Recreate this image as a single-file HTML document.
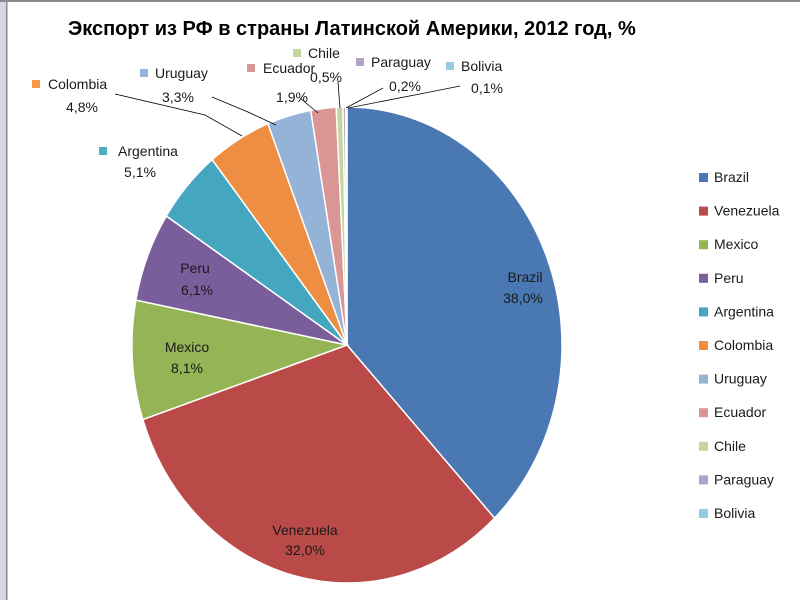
<!DOCTYPE html>
<html><head><meta charset="utf-8"><style>
body{margin:0;background:#fff}
svg text{font-family:"Liberation Sans","DejaVu Sans",sans-serif;font-size:14px;fill:#1a1a1a}
</style></head><body>
<svg id="s" width="800" height="600" xmlns="http://www.w3.org/2000/svg">
<rect x="0" y="0" width="6" height="600" fill="#ddd3e6"/>
<rect x="6" y="0" width="1.5" height="600" fill="#8a8a8a"/>
<rect x="0" y="0" width="800" height="2" fill="#8a8a8a"/>
<text x="68" y="35" style="font-size:20px;font-weight:bold;fill:#000">Экспорт из РФ в страны Латинской Америки, 2012 год, %</text>
<g id="pie"></g>
<g stroke="#000" stroke-width="0.8" fill="none">
<polyline points="115,94 205,115 242,136"/>
<polyline points="212,97 248,112 276,125"/>
<polyline points="300,98 318,113"/>
<polyline points="338,82 340,108"/>
<polyline points="383,88 346,108"/>
<polyline points="460,86 430,92 348,108"/>
</g>
<g text-anchor="middle">
<text x="525" y="282">Brazil</text><text x="523" y="303">38,0%</text>
<text x="305" y="535">Venezuela</text><text x="305" y="555">32,0%</text>
<text x="187" y="352">Mexico</text><text x="187" y="373">8,1%</text>
<text x="195" y="273">Peru</text><text x="197" y="295">6,1%</text>
<text x="140" y="177">5,1%</text>
<text x="82" y="112">4,8%</text>
<text x="178" y="102">3,3%</text>
<text x="292" y="102">1,9%</text>
<text x="326" y="82">0,5%</text>
<text x="405" y="91">0,2%</text>
<text x="487" y="93">0,1%</text>
</g>
<g>
<rect x="99" y="147" width="8" height="8" fill="#4BACC6"/><text x="118" y="156">Argentina</text>
<rect x="32" y="80" width="8" height="8" fill="#F79646"/><text x="48" y="89">Colombia</text>
<rect x="140" y="69" width="8" height="8" fill="#95B3D7"/><text x="155" y="78">Uruguay</text>
<rect x="247" y="64" width="8" height="8" fill="#D99694"/><text x="263" y="73">Ecuador</text>
<rect x="293" y="49" width="8" height="8" fill="#C3D69B"/><text x="308" y="58">Chile</text>
<rect x="356" y="58" width="8" height="8" fill="#B3A2C7"/><text x="371" y="67">Paraguay</text>
<rect x="446" y="62" width="8" height="8" fill="#93CDDD"/><text x="461" y="71">Bolivia</text>
</g>
<g id="leg"></g>
</svg>
<script>
var d=[["Brazil",38,"#4A78B2"],["Venezuela",32,"#B94A47"],["Mexico",8.1,"#94B455"],["Peru",6.1,"#7A5E9C"],["Argentina",5.1,"#45A6BF"],["Colombia",4.8,"#EE8E42"],["Uruguay",3.3,"#95B3D7"],["Ecuador",1.9,"#D99694"],["Chile",0.5,"#C3D69B"],["Paraguay",0.2,"#B3A2C7"],["Bolivia",0.1,"#93CDDD"]];
var cx=347,cy=345,rx=215,ry=238,tot=100.1,a=0,h="",l="";
d.forEach(function(e,i){var a0=a/tot*2*Math.PI;a+=e[1];var a1=a/tot*2*Math.PI;
var x0=cx+rx*Math.sin(a0),y0=cy-ry*Math.cos(a0),x1=cx+rx*Math.sin(a1),y1=cy-ry*Math.cos(a1);
h+='<path d="M'+cx+','+cy+'L'+x0+','+y0+'A'+rx+','+ry+' 0 '+((a1-a0)>Math.PI?1:0)+' 1 '+x1+','+y1+'Z" fill="'+e[2]+'" stroke="#fff" stroke-width="1.5"/>';
var y=177+i*33.6;l+='<rect x="699" y="'+(y-4)+'" width="9" height="9" fill="'+e[2]+'"/><text x="714" y="'+(y+5)+'">'+e[0]+'</text>';});
document.getElementById("pie").innerHTML=h;document.getElementById("leg").innerHTML=l;
</script>
</body></html>
